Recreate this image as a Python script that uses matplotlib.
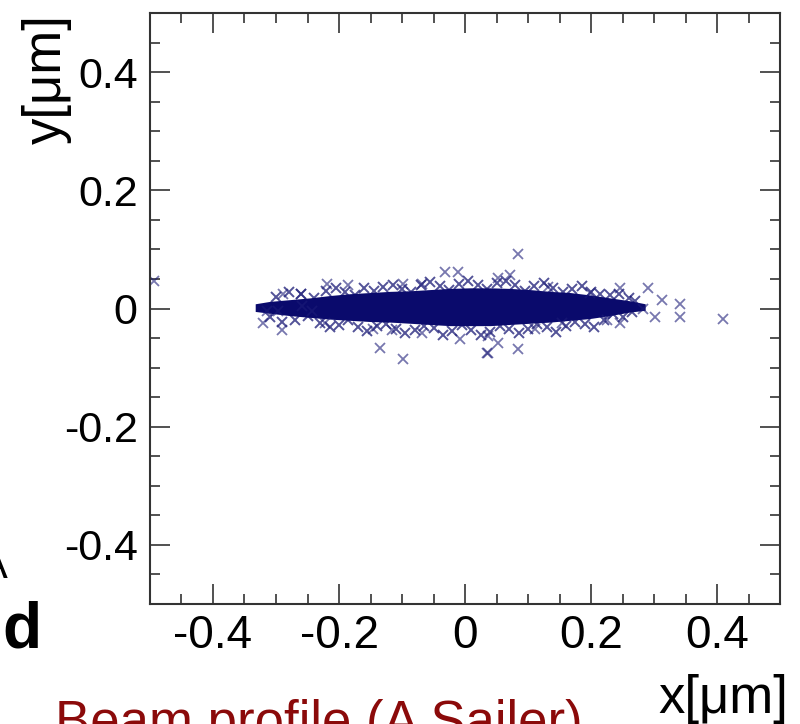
# beam profile scatter, ROOT style look
import matplotlib.pyplot as plt
from matplotlib.ticker import MultipleLocator

# dense core of the beam, envelope (x, top, bottom) in um
core_x = [-0.333, -0.310, -0.278, -0.246, -0.214, -0.183, -0.151, -0.119, -0.087, -0.056, -0.024,
          0.008, 0.040, 0.071, 0.103, 0.135, 0.167, 0.198, 0.230, 0.262, 0.286]
core_top = [0.008, 0.012, 0.015, 0.018, 0.022, 0.025, 0.027, 0.029, 0.030, 0.032, 0.034,
            0.035, 0.035, 0.034, 0.032, 0.029, 0.027, 0.023, 0.018, 0.013, 0.008]
core_bot = [-0.005, -0.008, -0.012, -0.015, -0.018, -0.020, -0.022, -0.023, -0.025, -0.027, -0.029,
            -0.029, -0.029, -0.027, -0.025, -0.023, -0.020, -0.017, -0.012, -0.006, -0.003]

# markers sitting on the edge of the core
edge_x = [-0.30, -0.26, -0.22, -0.19, -0.16, -0.13, -0.10, -0.07, -0.04, -0.01, 0.02, 0.05, 0.08,
          0.11, 0.14, 0.17, 0.20, 0.23, 0.26,
          -0.31, -0.27, -0.23, -0.20, -0.17, -0.14, -0.11, -0.08, -0.05, -0.02, 0.01, 0.04, 0.07,
          0.10, 0.13, 0.16, 0.19, 0.22, 0.25,
          -0.28, -0.24, -0.205, -0.175, -0.145, -0.115, -0.085, -0.055, -0.025, 0.005, 0.035,
          0.065, 0.095, 0.125, 0.155, 0.185, 0.215, 0.245, 0.27,
          -0.29, -0.25, -0.215, -0.185, -0.155, -0.125, -0.095, -0.065, -0.035, -0.005, 0.025,
          0.055, 0.085, 0.115, 0.145, 0.175, 0.205, 0.235, 0.265]
edge_y = [0.020, 0.024, 0.030, 0.028, 0.034, 0.036, 0.033, 0.040, 0.038, 0.042, 0.040, 0.043, 0.039,
          0.038, 0.035, 0.033, 0.028, 0.022, 0.018,
          -0.014, -0.020, -0.024, -0.028, -0.031, -0.030, -0.034, -0.036, -0.033, -0.038, -0.036,
          -0.039, -0.035, -0.034, -0.032, -0.030, -0.026, -0.020, -0.014,
          0.028, 0.018, 0.035, 0.022, 0.030, 0.040, 0.028, 0.045, 0.032, 0.046, 0.033,
          0.047, 0.030, 0.043, 0.028, 0.038, 0.025, 0.024, 0.012,
          -0.022, -0.012, -0.032, -0.020, -0.038, -0.026, -0.042, -0.030, -0.044, -0.028, -0.045,
          -0.030, -0.042, -0.026, -0.040, -0.022, -0.032, -0.010, -0.006]

# single events away from the core
out_x = [-0.494, -0.219, -0.186, -0.289, -0.260, -0.314, -0.297, -0.321, -0.290, -0.259, -0.222,
         -0.243, -0.032, -0.011, -0.098, -0.068, -0.135, -0.098, -0.008, 0.035, -0.146, -0.116,
         -0.068, 0.084, 0.071, 0.052, 0.132, 0.198, 0.154, 0.111, 0.037, 0.052, 0.084, 0.037,
         0.246, 0.290, 0.313, 0.341, 0.341, 0.302, 0.246, 0.410, 0.283, 0.225]
out_y = [0.046, 0.042, 0.039, 0.024, 0.024, -0.005, -0.005, -0.024, -0.037, 0.005, -0.025,
         -0.005, 0.061, 0.061, 0.042, 0.042, -0.066, -0.085, -0.051, -0.076, -0.034, -0.037,
         -0.041, 0.092, 0.056, 0.051, 0.036, 0.027, -0.025, -0.034, -0.046, -0.058, -0.068, -0.075,
         0.034, 0.034, 0.014, 0.008, -0.014, -0.014, -0.025, -0.017, 0.000, -0.020]

x_ticks = [-0.4, -0.2, 0, 0.2, 0.4]
y_ticks = [-0.4, -0.2, 0, 0.2, 0.4]
tick_labels = ['-0.4', '-0.2', '0', '0.2', '0.4']

plt.rcParams['font.family'] = ['Liberation Sans', 'DejaVu Sans']

fig = plt.figure(figsize=(8, 7.24), dpi=100)
ax = fig.add_axes([150 / 800, 1 - 604 / 724, 630 / 800, 591 / 724])

navy = '#0a0a6c'
ax.fill_between(core_x, core_bot, core_top, color=navy, lw=0)
ax.plot(edge_x, edge_y, 'x', color=navy, ms=7.5, mew=1.4, alpha=0.7)
ax.plot(out_x, out_y, 'x', color='#1c1c78', ms=7.5, mew=1.3, alpha=0.6)

ax.set_xlim(-0.5, 0.5)
ax.set_ylim(-0.5, 0.5)
ax.set_xticks(x_ticks)
ax.set_yticks(y_ticks)
ax.set_xticklabels(tick_labels)
ax.set_yticklabels(tick_labels)
ax.xaxis.set_minor_locator(MultipleLocator(0.05))
ax.yaxis.set_minor_locator(MultipleLocator(0.05))
ax.tick_params(which='both', direction='in', top=True, right=True, width=1.2, color='#333333')
ax.tick_params(which='major', length=14.4)
ax.tick_params(which='minor', length=7.2)
ax.tick_params(axis='x', which='major', labelsize=33, pad=7)
ax.tick_params(axis='y', which='major', labelsize=31, pad=9)
for s in ax.spines.values():
    s.set_linewidth(1.5)
    s.set_color('#333333')

fig.text(47 / 800, 1 - 14 / 724, 'y[\u03bcm]', rotation=90, ha='center', va='top', fontsize=38)
fig.text(788 / 800, 1 - 713 / 724, 'x[\u03bcm]', ha='right', va='baseline', fontsize=38)
fig.text(55 / 800, 1 - 738 / 724, 'Beam profile (A Sailer)', color='#8b0a0a', fontsize=38,
         ha='left', va='baseline')
fig.text(2 / 800, 1 - 648 / 724, 'd', fontsize=46, fontweight='bold', ha='left', va='baseline')
fig.text(8 / 800, 1 - 578 / 724, 'A', fontsize=30, ha='right', va='baseline')

plt.savefig('out.png', dpi=100)
